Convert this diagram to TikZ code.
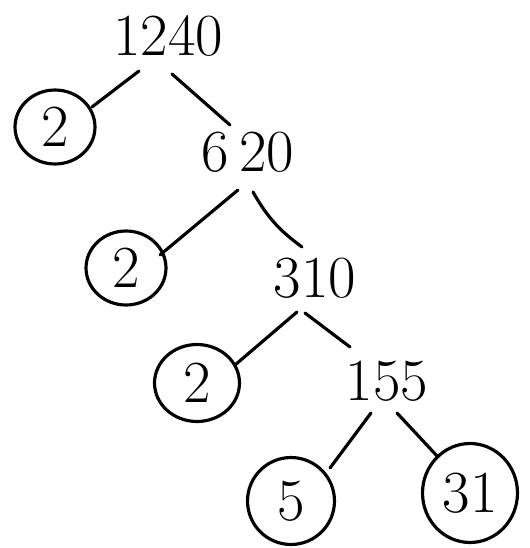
\documentclass[tikz,border=0pt]{standalone}
\usepackage{tikz}
\usetikzlibrary{shapes.geometric, arrows.meta, positioning, calc}

\begin{document}
\begin{tikzpicture}[
    x=0.02cm, y=-0.02cm,
    every node/.style={font=\fontsize{34}{40}\selectfont},
    num/.style={inner sep=1pt},
    prime/.style={draw, ellipse, line width=1.8pt, inner sep=0pt,
                  minimum width=1.6cm, minimum height=1.48cm},
    br/.style={line width=1.8pt, line cap=round}
]
    \useasboundingbox (0, 0) rectangle (529, 548);

    % factor tree
    \node[num] (n1240) at (168, 36) {1240};
    \node[prime] (p1) at (55, 127) {2};
    \node[num] (n620) at (248, 152) {6\,20};
    \node[prime] (p2) at (126, 268) {2};
    \node[num] (n310) at (315, 278) {310};
    \node[prime, minimum width=1.7cm, minimum height=1.54cm] (p3) at (197, 383) {2};
    \node[num] (n155) at (387, 381) {155};
    \node[prime, minimum width=1.74cm, minimum height=1.74cm] (p5) at (291, 501) {5};
    \node[prime, minimum width=1.9cm, minimum height=1.98cm] (p31) at (470, 493) {31};

    \draw[br] ($(n1240)+(-29,35)$) -- ($(p1)+(37,-20)$);
    \draw[br] ($(n1240)+(4,38)$) -- ($(n620)+(-18,-27)$);
    \draw[br] ($(n620)+(-10,38)$) -- ($(p2)+(34,-13)$);
    \draw[br] ($(n620)+(5,40)$) to[bend right=12] ($(n310)+(-13,-31)$);
    \draw[br] ($(n310)+(-18,34)$) -- ($(p3)+(38,-18)$);
    \draw[br] ($(n310)+(-10,35)$) -- ($(n155)+(-37,-34)$);
    \draw[br] ($(n155)+(-16,32)$) -- ($(p5)+(39,-33)$);
    \draw[br] ($(n155)+(10,32)$) -- ($(p31)+(-32,-36)$);
\end{tikzpicture}
\end{document}
